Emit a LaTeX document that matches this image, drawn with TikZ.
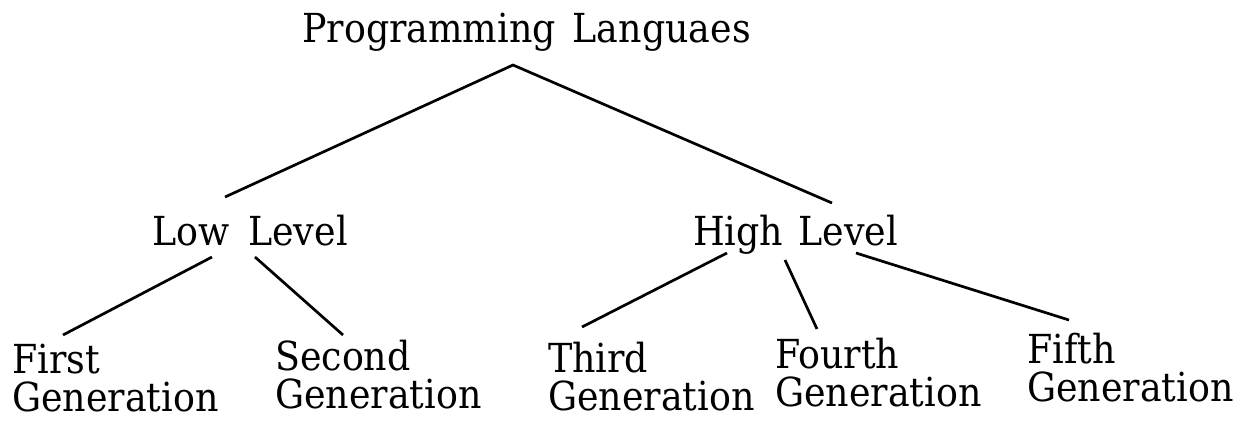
\documentclass[tikz,border=0pt]{standalone}
\usepackage{fontspec}
\setmainfont{DejaVu Serif}
\newcommand{\sx}[1]{\scalebox{0.91}[1]{#1}}
\begin{document}
\begin{tikzpicture}[x=1pt,y=-1pt,
  lbl/.style={inner sep=0pt, anchor=base west, align=left,
    font=\fontsize{40}{38}\selectfont, text=black},
  edge/.style={line width=2.7pt, black}]
\useasboundingbox[fill=white] (0,0) rectangle (1235,421);
\node[lbl] (root) at (302,42) {\sx{Programming\hspace{6pt} Languaes}};
\node[lbl] (low) at (152,245) {\sx{Low\hspace{8pt} Level}};
\node[lbl] (high) at (693,245) {\sx{High\hspace{4pt} Level}};
\node[lbl] (first) at (12,411) {\sx{First}\\\sx{Generation}};
\node[lbl] (second) at (275,408) {\sx{Second}\\\sx{Generation}};
\node[lbl] (third) at (548,410) {\sx{Third}\\\sx{Generation}};
\node[lbl] (fourth) at (775,406) {\sx{Fourth}\\\sx{Generation}};
\node[lbl] (fifth) at (1027,401) {\sx{Fifth}\\\sx{Generation}};
\draw[edge] ([shift={(73,-48)}]low.base west) -- ([shift={(211,23)}]root.base west) -- ([shift={(139,-42)}]high.base west);
\draw[edge] ([shift={(60,12)}]low.base west) -- ([shift={(51,-76)}]first.base west);
\draw[edge] ([shift={(103,12)}]low.base west) -- ([shift={(68,-73)}]second.base west);
\draw[edge] ([shift={(34,8)}]high.base west) -- ([shift={(34,-83)}]third.base west);
\draw[edge] ([shift={(92,15)}]high.base west) -- ([shift={(42,-77)}]fourth.base west);
\draw[edge] ([shift={(163,8)}]high.base west) -- ([shift={(42,-81)}]fifth.base west);
\end{tikzpicture}
\end{document}
